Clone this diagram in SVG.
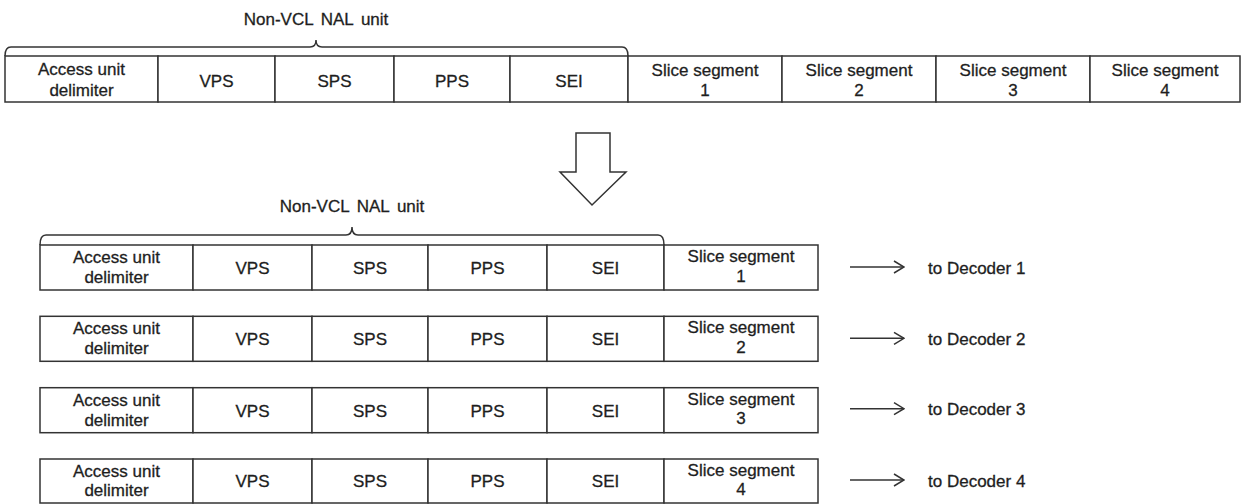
<svg xmlns="http://www.w3.org/2000/svg" width="1244" height="504" viewBox="0 0 1244 504">
  <style>
    .cell { fill: #ffffff; stroke: #333333; stroke-width: 1.5; }
    .lbl { font-family: "Liberation Sans", Arial, sans-serif; font-size: 17px; fill: #1e1e1e; stroke: #1e1e1e; stroke-width: 0.3; text-anchor: middle; }
    .note { font-family: "Liberation Sans", Arial, sans-serif; font-size: 17px; fill: #1e1e1e; stroke: #1e1e1e; stroke-width: 0.3; }
    .wide { word-spacing: 3px; }
    .brace { fill: none; stroke: #333333; stroke-width: 1.5; }
    .link { fill: none; stroke: #333333; stroke-width: 1.5; }
  </style>
  <defs>
    <marker id="open" viewBox="0 0 12 14" refX="11" refY="7" markerWidth="12" markerHeight="14" markerUnits="userSpaceOnUse" orient="auto">
      <path d="M1,1 L11,7 L1,13" fill="none" stroke="#333333" stroke-width="1.5"/>
    </marker>
  </defs>

  <rect width="1244" height="504" fill="#ffffff"/>

  <!-- Access unit as received -->
  <g id="brace-top">
    <path class="brace" d="M5,56 Q5,47 11,47 L310,47 Q316,47 316,40 Q316,47 322,47 L622,47 Q628,47 628,56"/>
    <text class="note wide" x="316" y="25" text-anchor="middle">Non-VCL NAL unit</text>
  </g>
  <g id="au-aud"><rect class="cell" x="5" y="56" width="153" height="46"/><text class="lbl" x="81.5" y="75">Access unit</text><text class="lbl" x="81.5" y="96">delimiter</text></g>
  <g id="au-vps"><rect class="cell" x="158" y="56" width="117" height="46"/><text class="lbl" x="216.5" y="87">VPS</text></g>
  <g id="au-sps"><rect class="cell" x="275" y="56" width="119" height="46"/><text class="lbl" x="334.5" y="87">SPS</text></g>
  <g id="au-pps"><rect class="cell" x="394" y="56" width="116" height="46"/><text class="lbl" x="452" y="87">PPS</text></g>
  <g id="au-sei"><rect class="cell" x="510" y="56" width="118" height="46"/><text class="lbl" x="569" y="87">SEI</text></g>
  <g id="au-slice1"><rect class="cell" x="628" y="56" width="154" height="46"/><text class="lbl" x="705" y="76">Slice segment</text><text class="lbl" x="705" y="95.5">1</text></g>
  <g id="au-slice2"><rect class="cell" x="782" y="56" width="154" height="46"/><text class="lbl" x="859" y="76">Slice segment</text><text class="lbl" x="859" y="95.5">2</text></g>
  <g id="au-slice3"><rect class="cell" x="936" y="56" width="154" height="46"/><text class="lbl" x="1013" y="76">Slice segment</text><text class="lbl" x="1013" y="95.5">3</text></g>
  <g id="au-slice4"><rect class="cell" x="1090" y="56" width="150" height="46"/><text class="lbl" x="1165" y="76">Slice segment</text><text class="lbl" x="1165" y="95.5">4</text></g>

  <!-- Split access units, one per decoder -->
  <g id="brace-split">
    <path class="brace" d="M40,245 Q40,235 46,235 L346,235 Q352,235 352,227 Q352,235 358,235 L658,235 Q664,235 664,245"/>
    <text class="note wide" x="352" y="212" text-anchor="middle">Non-VCL NAL unit</text>
  </g>

  <g id="row1" transform="translate(0,245)">
    <g id="r1-aud"><rect class="cell" x="40" y="0" width="153" height="45"/><text class="lbl" x="116.5" y="18">Access unit</text><text class="lbl" x="116.5" y="38">delimiter</text></g>
    <g id="r1-vps"><rect class="cell" x="193" y="0" width="119" height="45"/><text class="lbl" x="252.5" y="29">VPS</text></g>
    <g id="r1-sps"><rect class="cell" x="312" y="0" width="116" height="45"/><text class="lbl" x="370" y="29">SPS</text></g>
    <g id="r1-pps"><rect class="cell" x="428" y="0" width="119" height="45"/><text class="lbl" x="487.5" y="29">PPS</text></g>
    <g id="r1-sei"><rect class="cell" x="547" y="0" width="117" height="45"/><text class="lbl" x="605.5" y="29">SEI</text></g>
    <g id="r1-slice"><rect class="cell" x="664" y="0" width="154" height="45"/><text class="lbl" x="741" y="17">Slice segment</text><text class="lbl" x="741" y="36.5">1</text></g>
    <g id="r1-dec"><text class="note" x="928" y="29">to Decoder 1</text></g>
  </g>
  <g id="row2" transform="translate(0,316.3)">
    <g id="r2-aud"><rect class="cell" x="40" y="0" width="153" height="45"/><text class="lbl" x="116.5" y="18">Access unit</text><text class="lbl" x="116.5" y="38">delimiter</text></g>
    <g id="r2-vps"><rect class="cell" x="193" y="0" width="119" height="45"/><text class="lbl" x="252.5" y="29">VPS</text></g>
    <g id="r2-sps"><rect class="cell" x="312" y="0" width="116" height="45"/><text class="lbl" x="370" y="29">SPS</text></g>
    <g id="r2-pps"><rect class="cell" x="428" y="0" width="119" height="45"/><text class="lbl" x="487.5" y="29">PPS</text></g>
    <g id="r2-sei"><rect class="cell" x="547" y="0" width="117" height="45"/><text class="lbl" x="605.5" y="29">SEI</text></g>
    <g id="r2-slice"><rect class="cell" x="664" y="0" width="154" height="45"/><text class="lbl" x="741" y="17">Slice segment</text><text class="lbl" x="741" y="36.5">2</text></g>
    <g id="r2-dec"><text class="note" x="928" y="29">to Decoder 2</text></g>
  </g>
  <g id="row3" transform="translate(0,387.7)">
    <g id="r3-aud"><rect class="cell" x="40" y="0" width="153" height="45"/><text class="lbl" x="116.5" y="18">Access unit</text><text class="lbl" x="116.5" y="38">delimiter</text></g>
    <g id="r3-vps"><rect class="cell" x="193" y="0" width="119" height="45"/><text class="lbl" x="252.5" y="29">VPS</text></g>
    <g id="r3-sps"><rect class="cell" x="312" y="0" width="116" height="45"/><text class="lbl" x="370" y="29">SPS</text></g>
    <g id="r3-pps"><rect class="cell" x="428" y="0" width="119" height="45"/><text class="lbl" x="487.5" y="29">PPS</text></g>
    <g id="r3-sei"><rect class="cell" x="547" y="0" width="117" height="45"/><text class="lbl" x="605.5" y="29">SEI</text></g>
    <g id="r3-slice"><rect class="cell" x="664" y="0" width="154" height="45"/><text class="lbl" x="741" y="17">Slice segment</text><text class="lbl" x="741" y="36.5">3</text></g>
    <g id="r3-dec"><text class="note" x="928" y="27">to Decoder 3</text></g>
  </g>
  <g id="row4" transform="translate(0,459)">
    <g id="r4-aud"><rect class="cell" x="40" y="0" width="153" height="44"/><text class="lbl" x="116.5" y="18">Access unit</text><text class="lbl" x="116.5" y="37">delimiter</text></g>
    <g id="r4-vps"><rect class="cell" x="193" y="0" width="119" height="44"/><text class="lbl" x="252.5" y="28">VPS</text></g>
    <g id="r4-sps"><rect class="cell" x="312" y="0" width="116" height="44"/><text class="lbl" x="370" y="28">SPS</text></g>
    <g id="r4-pps"><rect class="cell" x="428" y="0" width="119" height="44"/><text class="lbl" x="487.5" y="28">PPS</text></g>
    <g id="r4-sei"><rect class="cell" x="547" y="0" width="117" height="44"/><text class="lbl" x="605.5" y="28">SEI</text></g>
    <g id="r4-slice"><rect class="cell" x="664" y="0" width="154" height="44"/><text class="lbl" x="741" y="17">Slice segment</text><text class="lbl" x="741" y="36">4</text></g>
    <g id="r4-dec"><text class="note" x="928" y="28">to Decoder 4</text></g>
  </g>

  <!-- Connectors: split arrow and decoder outputs -->
  <g id="connectors">
    <path class="link" d="M576,133 L610,133 L610,172 L626,172 L592,205 L560,172 L576,172 Z" fill="#ffffff"/>
    <line class="link" x1="850" y1="267" x2="904" y2="267" marker-end="url(#open)"/>
    <line class="link" x1="850" y1="338.3" x2="904" y2="338.3" marker-end="url(#open)"/>
    <line class="link" x1="850" y1="408.7" x2="904" y2="408.7" marker-end="url(#open)"/>
    <line class="link" x1="850" y1="480" x2="904" y2="480" marker-end="url(#open)"/>
  </g>
</svg>
